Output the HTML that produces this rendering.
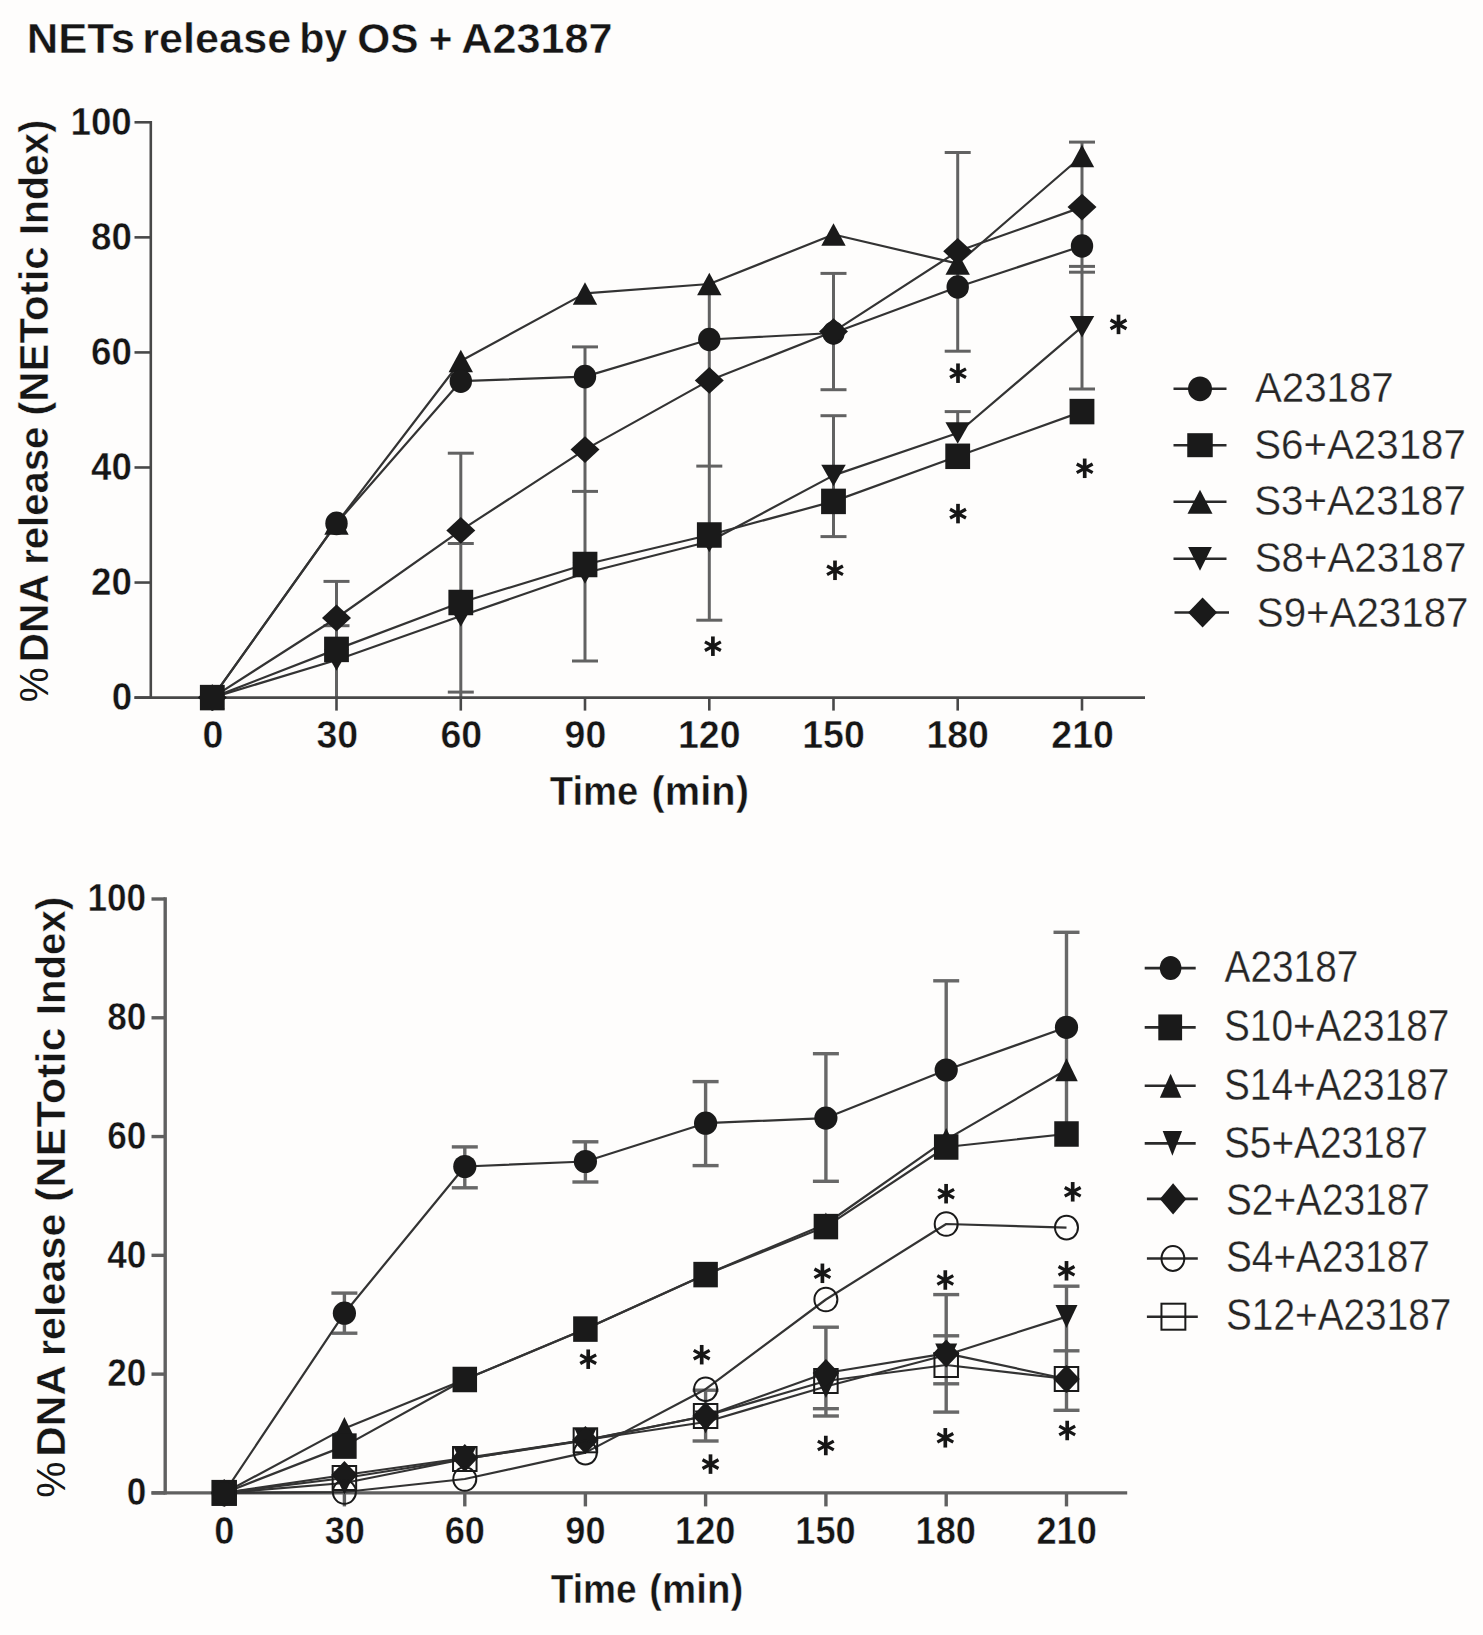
<!DOCTYPE html><html><head><meta charset="utf-8"><title>NETs release by OS + A23187</title>
<style>html,body{margin:0;padding:0;background:#fefdfc;overflow:hidden}svg{display:block}text{font-family:"Liberation Sans",sans-serif;fill:#161616;stroke:#fefdfc;stroke-width:0.45px}text.lg{fill:#262626;stroke-width:0.3px}</style></head><body>
<svg width="1483" height="1635" viewBox="0 0 1483 1635">
<rect width="1483" height="1635" fill="#fefdfc"/>
<text transform="translate(26.65 52.5) scale(1.0339 1)" font-size="42.2" font-weight="bold">NETs</text>
<text transform="translate(142.28 52.5) scale(1.0238 1)" font-size="42.2" font-weight="bold">release</text>
<text transform="translate(299.22 52.5) scale(0.9761 1)" font-size="42.2" font-weight="bold">by</text>
<text transform="translate(357.3 52.5) scale(1.0054 1)" font-size="42.2" font-weight="bold">OS</text>
<text transform="translate(428.68 52.5) scale(0.9573 1)" font-size="42.2" font-weight="bold">+</text>
<text transform="translate(461.3 52.5) scale(1.0232 1)" font-size="42.2" font-weight="bold">A23187</text>
<line x1="336.5" y1="581.4" x2="336.5" y2="697.6" stroke="#626262" stroke-width="3.0"/><line x1="323.5" y1="581.4" x2="349.5" y2="581.4" stroke="#626262" stroke-width="3.0"/><line x1="323.5" y1="625.7" x2="349.5" y2="625.7" stroke="#626262" stroke-width="3.0"/>
<line x1="460.8" y1="453.2" x2="460.8" y2="697.6" stroke="#626262" stroke-width="3.0"/><line x1="447.8" y1="453.2" x2="473.8" y2="453.2" stroke="#626262" stroke-width="3.0"/><line x1="447.8" y1="543.5" x2="473.8" y2="543.5" stroke="#626262" stroke-width="3.0"/><line x1="447.8" y1="692.1" x2="473.8" y2="692.1" stroke="#626262" stroke-width="3.0"/>
<line x1="585" y1="346.9" x2="585" y2="661" stroke="#626262" stroke-width="3.0"/><line x1="572" y1="346.9" x2="598" y2="346.9" stroke="#626262" stroke-width="3.0"/><line x1="572" y1="491.4" x2="598" y2="491.4" stroke="#626262" stroke-width="3.0"/><line x1="572" y1="661" x2="598" y2="661" stroke="#626262" stroke-width="3.0"/>
<line x1="709.3" y1="285" x2="709.3" y2="620.2" stroke="#626262" stroke-width="3.0"/><line x1="696.3" y1="466.1" x2="722.3" y2="466.1" stroke="#626262" stroke-width="3.0"/><line x1="696.3" y1="620.2" x2="722.3" y2="620.2" stroke="#626262" stroke-width="3.0"/>
<line x1="833.5" y1="273.4" x2="833.5" y2="389.7" stroke="#626262" stroke-width="3.0"/><line x1="833.5" y1="415.7" x2="833.5" y2="536.6" stroke="#626262" stroke-width="3.0"/><line x1="820.5" y1="273.4" x2="846.5" y2="273.4" stroke="#626262" stroke-width="3.0"/><line x1="820.5" y1="389.7" x2="846.5" y2="389.7" stroke="#626262" stroke-width="3.0"/><line x1="820.5" y1="415.7" x2="846.5" y2="415.7" stroke="#626262" stroke-width="3.0"/><line x1="820.5" y1="536.6" x2="846.5" y2="536.6" stroke="#626262" stroke-width="3.0"/>
<line x1="957.7" y1="152.5" x2="957.7" y2="351.2" stroke="#626262" stroke-width="3.0"/><line x1="957.7" y1="411.6" x2="957.7" y2="440" stroke="#626262" stroke-width="3.0"/><line x1="944.7" y1="152.5" x2="970.7" y2="152.5" stroke="#626262" stroke-width="3.0"/><line x1="944.7" y1="351.2" x2="970.7" y2="351.2" stroke="#626262" stroke-width="3.0"/><line x1="944.7" y1="411.6" x2="970.7" y2="411.6" stroke="#626262" stroke-width="3.0"/>
<line x1="1082" y1="142.1" x2="1082" y2="389" stroke="#626262" stroke-width="3.0"/><line x1="1069" y1="142.1" x2="1095" y2="142.1" stroke="#626262" stroke-width="3.0"/><line x1="1069" y1="266.4" x2="1095" y2="266.4" stroke="#626262" stroke-width="3.0"/><line x1="1069" y1="272.2" x2="1095" y2="272.2" stroke="#626262" stroke-width="3.0"/><line x1="1069" y1="389" x2="1095" y2="389" stroke="#626262" stroke-width="3.0"/>
<line x1="150.8" y1="121" x2="150.8" y2="698.9" stroke="#484848" stroke-width="2.6"/>
<line x1="134.5" y1="697.6" x2="1145" y2="697.6" stroke="#484848" stroke-width="2.6"/>
<line x1="134.5" y1="122.3" x2="150.8" y2="122.3" stroke="#484848" stroke-width="2.6"/>
<text transform="translate(70.42 134.8) scale(0.9684 1)" font-size="38" font-weight="bold">100</text>
<line x1="134.5" y1="237.36" x2="150.8" y2="237.36" stroke="#484848" stroke-width="2.6"/>
<text transform="translate(91.02 249.86) scale(0.9684 1)" font-size="38" font-weight="bold">80</text>
<line x1="134.5" y1="352.42" x2="150.8" y2="352.42" stroke="#484848" stroke-width="2.6"/>
<text transform="translate(91.02 364.92) scale(0.9684 1)" font-size="38" font-weight="bold">60</text>
<line x1="134.5" y1="467.48" x2="150.8" y2="467.48" stroke="#484848" stroke-width="2.6"/>
<text transform="translate(91.02 479.98) scale(0.9684 1)" font-size="38" font-weight="bold">40</text>
<line x1="134.5" y1="582.54" x2="150.8" y2="582.54" stroke="#484848" stroke-width="2.6"/>
<text transform="translate(91.02 595.04) scale(0.9684 1)" font-size="38" font-weight="bold">20</text>
<line x1="134.5" y1="697.6" x2="150.8" y2="697.6" stroke="#484848" stroke-width="2.6"/>
<text transform="translate(111.63 710.1) scale(0.9684 1)" font-size="38" font-weight="bold">0</text>
<line x1="212.3" y1="697.6" x2="212.3" y2="710.6" stroke="#484848" stroke-width="2.6"/>
<text transform="translate(202.39 747.5) scale(0.9868 1)" font-size="38" font-weight="bold">0</text>
<line x1="336.5" y1="697.6" x2="336.5" y2="710.6" stroke="#484848" stroke-width="2.6"/>
<text transform="translate(316.46 747.5) scale(0.9868 1)" font-size="38" font-weight="bold">30</text>
<line x1="460.8" y1="697.6" x2="460.8" y2="710.6" stroke="#484848" stroke-width="2.6"/>
<text transform="translate(440.39 747.5) scale(0.9868 1)" font-size="38" font-weight="bold">60</text>
<line x1="585" y1="697.6" x2="585" y2="710.6" stroke="#484848" stroke-width="2.6"/>
<text transform="translate(564.59 747.5) scale(0.9868 1)" font-size="38" font-weight="bold">90</text>
<line x1="709.3" y1="697.6" x2="709.3" y2="710.6" stroke="#484848" stroke-width="2.6"/>
<text transform="translate(678.01 747.5) scale(0.9868 1)" font-size="38" font-weight="bold">120</text>
<line x1="833.5" y1="697.6" x2="833.5" y2="710.6" stroke="#484848" stroke-width="2.6"/>
<text transform="translate(802.21 747.5) scale(0.9868 1)" font-size="38" font-weight="bold">150</text>
<line x1="957.7" y1="697.6" x2="957.7" y2="710.6" stroke="#484848" stroke-width="2.6"/>
<text transform="translate(926.41 747.5) scale(0.9868 1)" font-size="38" font-weight="bold">180</text>
<line x1="1082" y1="697.6" x2="1082" y2="710.6" stroke="#484848" stroke-width="2.6"/>
<text transform="translate(1051.28 747.5) scale(0.9868 1)" font-size="38" font-weight="bold">210</text>
<text transform="translate(549.82 805) scale(0.9441 1)" font-size="40.5" font-weight="bold">Time</text>
<text transform="translate(651.61 805) scale(0.9834 1)" font-size="40.5" font-weight="bold">(min)</text>
<text style="stroke-width:0" transform="translate(47.8 702.37) rotate(-90) scale(0.9545 1)" font-size="41" font-weight="normal">%</text>
<text transform="translate(47.8 662.56) rotate(-90) scale(0.9980 1)" font-size="41" font-weight="bold">DNA</text>
<text transform="translate(47.8 564.8) rotate(-90) scale(0.9763 1)" font-size="41" font-weight="bold">release</text>
<text transform="translate(47.8 415.7) rotate(-90) scale(1.0237 1)" font-size="41" font-weight="bold">(NETotic</text>
<text transform="translate(47.8 234.74) rotate(-90) scale(0.9532 1)" font-size="41" font-weight="bold">Index)</text>
<polyline points="212.3,697.6 336.5,523.5 460.8,361 585,293.4 709.3,284 833.5,234.5 957.7,263.6 1082,156" fill="none" stroke="#333333" stroke-width="2.2" stroke-linejoin="round"/>
<polyline points="212.3,697.6 336.5,523.4 460.8,381.2 585,376.6 709.3,339.5 833.5,333 957.7,287 1082,246" fill="none" stroke="#333333" stroke-width="2.2" stroke-linejoin="round"/>
<polyline points="212.3,697.6 336.5,618 460.8,530.4 585,449.6 709.3,380.4 833.5,331.6 957.7,251.3 1082,207.1" fill="none" stroke="#333333" stroke-width="2.2" stroke-linejoin="round"/>
<polyline points="212.3,697.6 336.5,660 460.8,616 585,573 709.3,541.5 833.5,475.4 957.7,433 1082,326.8" fill="none" stroke="#333333" stroke-width="2.2" stroke-linejoin="round"/>
<polyline points="212.3,697.6 336.5,649.4 460.8,602.5 585,564.5 709.3,535 833.5,501.4 957.7,456.3 1082,411.6" fill="none" stroke="#333333" stroke-width="2.2" stroke-linejoin="round"/>
<path d="M212.3 686.35L224.5 708.85L200.1 708.85Z" fill="#1a1a1a"/>
<path d="M336.5 512.25L348.7 534.75L324.3 534.75Z" fill="#1a1a1a"/>
<path d="M460.8 349.75L473 372.25L448.6 372.25Z" fill="#1a1a1a"/>
<path d="M585 282.15L597.2 304.65L572.8 304.65Z" fill="#1a1a1a"/>
<path d="M709.3 272.75L721.5 295.25L697.1 295.25Z" fill="#1a1a1a"/>
<path d="M833.5 223.25L845.7 245.75L821.3 245.75Z" fill="#1a1a1a"/>
<path d="M957.7 252.35L969.9 274.85L945.5 274.85Z" fill="#1a1a1a"/>
<path d="M1082 144.75L1094.2 167.25L1069.8 167.25Z" fill="#1a1a1a"/>
<ellipse cx="212.3" cy="697.6" rx="11.2" ry="11.8" fill="#1a1a1a"/>
<ellipse cx="336.5" cy="523.4" rx="11.2" ry="11.8" fill="#1a1a1a"/>
<ellipse cx="460.8" cy="381.2" rx="11.2" ry="11.8" fill="#1a1a1a"/>
<ellipse cx="585" cy="376.6" rx="11.2" ry="11.8" fill="#1a1a1a"/>
<ellipse cx="709.3" cy="339.5" rx="11.2" ry="11.8" fill="#1a1a1a"/>
<ellipse cx="833.5" cy="333" rx="11.2" ry="11.8" fill="#1a1a1a"/>
<ellipse cx="957.7" cy="287" rx="11.2" ry="11.8" fill="#1a1a1a"/>
<ellipse cx="1082" cy="246" rx="11.2" ry="11.8" fill="#1a1a1a"/>
<path d="M212.3 684.2L226.8 697.6L212.3 711L197.8 697.6Z" fill="#1a1a1a"/>
<path d="M336.5 604.6L351 618L336.5 631.4L322 618Z" fill="#1a1a1a"/>
<path d="M460.8 517L475.3 530.4L460.8 543.8L446.3 530.4Z" fill="#1a1a1a"/>
<path d="M585 436.2L599.5 449.6L585 463L570.5 449.6Z" fill="#1a1a1a"/>
<path d="M709.3 367L723.8 380.4L709.3 393.8L694.8 380.4Z" fill="#1a1a1a"/>
<path d="M833.5 318.2L848 331.6L833.5 345L819 331.6Z" fill="#1a1a1a"/>
<path d="M957.7 237.9L972.2 251.3L957.7 264.7L943.2 251.3Z" fill="#1a1a1a"/>
<path d="M1082 193.7L1096.5 207.1L1082 220.5L1067.5 207.1Z" fill="#1a1a1a"/>
<path d="M200.05 686.85L224.55 686.85L212.3 708.35Z" fill="#1a1a1a"/>
<path d="M324.25 649.25L348.75 649.25L336.5 670.75Z" fill="#1a1a1a"/>
<path d="M448.55 605.25L473.05 605.25L460.8 626.75Z" fill="#1a1a1a"/>
<path d="M572.75 562.25L597.25 562.25L585 583.75Z" fill="#1a1a1a"/>
<path d="M697.05 530.75L721.55 530.75L709.3 552.25Z" fill="#1a1a1a"/>
<path d="M821.25 464.65L845.75 464.65L833.5 486.15Z" fill="#1a1a1a"/>
<path d="M945.45 422.25L969.95 422.25L957.7 443.75Z" fill="#1a1a1a"/>
<path d="M1069.75 316.05L1094.25 316.05L1082 337.55Z" fill="#1a1a1a"/>
<rect x="199.9" y="684.85" width="24.8" height="25.5" fill="#1a1a1a"/>
<rect x="324.1" y="636.65" width="24.8" height="25.5" fill="#1a1a1a"/>
<rect x="448.4" y="589.75" width="24.8" height="25.5" fill="#1a1a1a"/>
<rect x="572.6" y="551.75" width="24.8" height="25.5" fill="#1a1a1a"/>
<rect x="696.9" y="522.25" width="24.8" height="25.5" fill="#1a1a1a"/>
<rect x="821.1" y="488.65" width="24.8" height="25.5" fill="#1a1a1a"/>
<rect x="945.3" y="443.55" width="24.8" height="25.5" fill="#1a1a1a"/>
<rect x="1069.6" y="398.85" width="24.8" height="25.5" fill="#1a1a1a"/>
<path d="M712.9 636.45L712.9 655.95" stroke="#161616" stroke-width="3.7" fill="none"/><path d="M704.95 641.83L720.85 650.57M704.95 650.57L720.85 641.83" stroke="#161616" stroke-width="3.3" fill="none"/>
<path d="M835 560.55L835 580.05" stroke="#161616" stroke-width="3.7" fill="none"/><path d="M827.05 565.93L842.95 574.67M827.05 574.67L842.95 565.93" stroke="#161616" stroke-width="3.3" fill="none"/>
<path d="M958 363.45L958 382.95" stroke="#161616" stroke-width="3.7" fill="none"/><path d="M950.05 368.83L965.95 377.57M950.05 377.57L965.95 368.83" stroke="#161616" stroke-width="3.3" fill="none"/>
<path d="M958 503.85L958 523.35" stroke="#161616" stroke-width="3.7" fill="none"/><path d="M950.05 509.23L965.95 517.97M950.05 517.97L965.95 509.23" stroke="#161616" stroke-width="3.3" fill="none"/>
<path d="M1118.5 314.65L1118.5 334.15" stroke="#161616" stroke-width="3.7" fill="none"/><path d="M1110.55 320.03L1126.45 328.77M1110.55 328.77L1126.45 320.03" stroke="#161616" stroke-width="3.3" fill="none"/>
<path d="M1084.7 458.55L1084.7 478.05" stroke="#161616" stroke-width="3.7" fill="none"/><path d="M1076.75 463.93L1092.65 472.67M1076.75 472.67L1092.65 463.93" stroke="#161616" stroke-width="3.3" fill="none"/>
<line x1="1173.5" y1="388.8" x2="1226.5" y2="388.8" stroke="#2a2a2a" stroke-width="2.6"/>
<ellipse cx="1200" cy="388.8" rx="12" ry="12.4" fill="#1a1a1a"/>
<text class="lg" transform="translate(1254.9 402.4) scale(0.9416 1)" font-size="42.8" font-weight="normal">A23187</text>
<line x1="1173.5" y1="445.2" x2="1226.5" y2="445.2" stroke="#2a2a2a" stroke-width="2.6"/>
<rect x="1187.25" y="433.2" width="25.5" height="24" fill="#1a1a1a"/>
<text class="lg" transform="translate(1254.2 458.7) scale(0.9416 1)" font-size="42.8" font-weight="normal">S6+A23187</text>
<line x1="1173.5" y1="501.8" x2="1226.5" y2="501.8" stroke="#2a2a2a" stroke-width="2.6"/>
<path d="M1200 489.8L1212.5 513.8L1187.5 513.8Z" fill="#1a1a1a"/>
<text class="lg" transform="translate(1254.2 514.6) scale(0.9416 1)" font-size="42.8" font-weight="normal">S3+A23187</text>
<line x1="1173.5" y1="558.8" x2="1226.5" y2="558.8" stroke="#2a2a2a" stroke-width="2.6"/>
<path d="M1188.1 546.95L1211.9 546.95L1200 570.65Z" fill="#1a1a1a"/>
<text class="lg" transform="translate(1254.7 571.8) scale(0.9416 1)" font-size="42.8" font-weight="normal">S8+A23187</text>
<line x1="1174.5" y1="612.5" x2="1229" y2="612.5" stroke="#2a2a2a" stroke-width="2.6"/>
<path d="M1202.6 597.6L1217.1 612.5L1202.6 627.4L1188.1 612.5Z" fill="#1a1a1a"/>
<text class="lg" transform="translate(1256.8 626.8) scale(0.9416 1)" font-size="42.8" font-weight="normal">S9+A23187</text>
<line x1="344.4" y1="1293.1" x2="344.4" y2="1333.2" stroke="#686868" stroke-width="3.4"/><line x1="331.4" y1="1293.1" x2="357.4" y2="1293.1" stroke="#686868" stroke-width="3.4"/><line x1="331.4" y1="1333.2" x2="357.4" y2="1333.2" stroke="#686868" stroke-width="3.4"/>
<line x1="464.8" y1="1146.9" x2="464.8" y2="1187.8" stroke="#686868" stroke-width="3.4"/><line x1="451.8" y1="1146.9" x2="477.8" y2="1146.9" stroke="#686868" stroke-width="3.4"/><line x1="451.8" y1="1187.8" x2="477.8" y2="1187.8" stroke="#686868" stroke-width="3.4"/>
<line x1="585.4" y1="1141.8" x2="585.4" y2="1182" stroke="#686868" stroke-width="3.4"/><line x1="572.4" y1="1141.8" x2="598.4" y2="1141.8" stroke="#686868" stroke-width="3.4"/><line x1="572.4" y1="1182" x2="598.4" y2="1182" stroke="#686868" stroke-width="3.4"/>
<line x1="705.6" y1="1081.6" x2="705.6" y2="1165.6" stroke="#686868" stroke-width="3.4"/><line x1="705.6" y1="1390" x2="705.6" y2="1441" stroke="#686868" stroke-width="3.4"/><line x1="692.6" y1="1081.6" x2="718.6" y2="1081.6" stroke="#686868" stroke-width="3.4"/><line x1="692.6" y1="1165.6" x2="718.6" y2="1165.6" stroke="#686868" stroke-width="3.4"/><line x1="692.6" y1="1390.2" x2="718.6" y2="1390.2" stroke="#686868" stroke-width="3.4"/><line x1="692.6" y1="1441" x2="718.6" y2="1441" stroke="#686868" stroke-width="3.4"/>
<line x1="825.9" y1="1053.7" x2="825.9" y2="1181.3" stroke="#686868" stroke-width="3.4"/><line x1="825.9" y1="1327.2" x2="825.9" y2="1416" stroke="#686868" stroke-width="3.4"/><line x1="812.9" y1="1053.7" x2="838.9" y2="1053.7" stroke="#686868" stroke-width="3.4"/><line x1="812.9" y1="1181.3" x2="838.9" y2="1181.3" stroke="#686868" stroke-width="3.4"/><line x1="812.9" y1="1327.2" x2="838.9" y2="1327.2" stroke="#686868" stroke-width="3.4"/><line x1="812.9" y1="1408.7" x2="838.9" y2="1408.7" stroke="#686868" stroke-width="3.4"/><line x1="812.9" y1="1416" x2="838.9" y2="1416" stroke="#686868" stroke-width="3.4"/>
<line x1="946.2" y1="980.8" x2="946.2" y2="1147" stroke="#686868" stroke-width="3.4"/><line x1="946.2" y1="1294.6" x2="946.2" y2="1412.1" stroke="#686868" stroke-width="3.4"/><line x1="933.2" y1="980.8" x2="959.2" y2="980.8" stroke="#686868" stroke-width="3.4"/><line x1="933.2" y1="1294.6" x2="959.2" y2="1294.6" stroke="#686868" stroke-width="3.4"/><line x1="933.2" y1="1335.8" x2="959.2" y2="1335.8" stroke="#686868" stroke-width="3.4"/><line x1="933.2" y1="1383.8" x2="959.2" y2="1383.8" stroke="#686868" stroke-width="3.4"/><line x1="933.2" y1="1412.1" x2="959.2" y2="1412.1" stroke="#686868" stroke-width="3.4"/>
<line x1="1066.5" y1="932.3" x2="1066.5" y2="1134" stroke="#686868" stroke-width="3.4"/><line x1="1066.5" y1="1286.2" x2="1066.5" y2="1410.3" stroke="#686868" stroke-width="3.4"/><line x1="1053.5" y1="932.3" x2="1079.5" y2="932.3" stroke="#686868" stroke-width="3.4"/><line x1="1053.5" y1="1286.2" x2="1079.5" y2="1286.2" stroke="#686868" stroke-width="3.4"/><line x1="1053.5" y1="1350.8" x2="1079.5" y2="1350.8" stroke="#686868" stroke-width="3.4"/><line x1="1053.5" y1="1410.3" x2="1079.5" y2="1410.3" stroke="#686868" stroke-width="3.4"/>
<line x1="165.2" y1="897.3" x2="165.2" y2="1494.6" stroke="#606060" stroke-width="3.4"/>
<line x1="151.5" y1="1492.9" x2="1127.2" y2="1492.9" stroke="#606060" stroke-width="3.4"/>
<line x1="151.5" y1="899" x2="165.2" y2="899" stroke="#606060" stroke-width="3.4"/>
<text transform="translate(87.42 911.3) scale(0.9215 1)" font-size="38.2" font-weight="bold">100</text>
<line x1="151.5" y1="1017.78" x2="165.2" y2="1017.78" stroke="#606060" stroke-width="3.4"/>
<text transform="translate(107.14 1030.08) scale(0.9215 1)" font-size="38.2" font-weight="bold">80</text>
<line x1="151.5" y1="1136.56" x2="165.2" y2="1136.56" stroke="#606060" stroke-width="3.4"/>
<text transform="translate(107.14 1148.86) scale(0.9215 1)" font-size="38.2" font-weight="bold">60</text>
<line x1="151.5" y1="1255.34" x2="165.2" y2="1255.34" stroke="#606060" stroke-width="3.4"/>
<text transform="translate(107.14 1267.64) scale(0.9215 1)" font-size="38.2" font-weight="bold">40</text>
<line x1="151.5" y1="1374.12" x2="165.2" y2="1374.12" stroke="#606060" stroke-width="3.4"/>
<text transform="translate(107.14 1386.42) scale(0.9215 1)" font-size="38.2" font-weight="bold">20</text>
<line x1="151.5" y1="1492.9" x2="165.2" y2="1492.9" stroke="#606060" stroke-width="3.4"/>
<text transform="translate(126.85 1505.2) scale(0.9215 1)" font-size="38.2" font-weight="bold">0</text>
<line x1="224.2" y1="1492.9" x2="224.2" y2="1506.4" stroke="#606060" stroke-width="3.4"/>
<text transform="translate(214.24 1543.8) scale(0.9330 1)" font-size="38.8" font-weight="bold">0</text>
<line x1="344.4" y1="1492.9" x2="344.4" y2="1506.4" stroke="#606060" stroke-width="3.4"/>
<text transform="translate(324.67 1543.8) scale(0.9330 1)" font-size="38.8" font-weight="bold">30</text>
<line x1="464.8" y1="1492.9" x2="464.8" y2="1506.4" stroke="#606060" stroke-width="3.4"/>
<text transform="translate(444.71 1543.8) scale(0.9330 1)" font-size="38.8" font-weight="bold">60</text>
<line x1="585.4" y1="1492.9" x2="585.4" y2="1506.4" stroke="#606060" stroke-width="3.4"/>
<text transform="translate(565.31 1543.8) scale(0.9330 1)" font-size="38.8" font-weight="bold">90</text>
<line x1="705.6" y1="1492.9" x2="705.6" y2="1506.4" stroke="#606060" stroke-width="3.4"/>
<text transform="translate(675.01 1543.8) scale(0.9330 1)" font-size="38.8" font-weight="bold">120</text>
<line x1="825.9" y1="1492.9" x2="825.9" y2="1506.4" stroke="#606060" stroke-width="3.4"/>
<text transform="translate(795.31 1543.8) scale(0.9330 1)" font-size="38.8" font-weight="bold">150</text>
<line x1="946.2" y1="1492.9" x2="946.2" y2="1506.4" stroke="#606060" stroke-width="3.4"/>
<text transform="translate(915.61 1543.8) scale(0.9330 1)" font-size="38.8" font-weight="bold">180</text>
<line x1="1066.5" y1="1492.9" x2="1066.5" y2="1506.4" stroke="#606060" stroke-width="3.4"/>
<text transform="translate(1036.45 1543.8) scale(0.9330 1)" font-size="38.8" font-weight="bold">210</text>
<text transform="translate(550.63 1603.4) scale(0.9170 1)" font-size="40.5" font-weight="bold">Time</text>
<text transform="translate(649.28 1603.4) scale(0.9497 1)" font-size="40.5" font-weight="bold">(min)</text>
<text style="stroke-width:0" transform="translate(65 1497.82) rotate(-90) scale(1.0180 1)" font-size="39.9" font-weight="normal">%</text>
<text transform="translate(65 1456.77) rotate(-90) scale(1.0618 1)" font-size="39.9" font-weight="bold">DNA</text>
<text transform="translate(65 1356.1) rotate(-90) scale(1.0370 1)" font-size="39.9" font-weight="bold">release</text>
<text transform="translate(65 1202.06) rotate(-90) scale(1.0841 1)" font-size="39.9" font-weight="bold">(NETotic</text>
<text transform="translate(65 1015.21) rotate(-90) scale(1.0078 1)" font-size="39.9" font-weight="bold">Index)</text>
<polyline points="224.2,1492.9 344.4,1313.2 464.8,1166.5 585.4,1161.5 705.6,1123.2 825.9,1118.1 946.2,1070 1066.5,1027.3" fill="none" stroke="#333333" stroke-width="2.2" stroke-linejoin="round"/>
<polyline points="224.2,1492.9 344.4,1428.4 464.8,1379.5 585.4,1329 705.6,1274.6 825.9,1224 946.2,1139.6 1066.5,1069.8" fill="none" stroke="#333333" stroke-width="2.2" stroke-linejoin="round"/>
<polyline points="224.2,1492.9 344.4,1483 464.8,1459 585.4,1440 705.6,1422 825.9,1386.5 946.2,1355 1066.5,1316.6" fill="none" stroke="#333333" stroke-width="2.2" stroke-linejoin="round"/>
<polyline points="224.2,1492.9 344.4,1475 464.8,1458 585.4,1440 705.6,1416 825.9,1373 946.2,1353.4 1066.5,1379" fill="none" stroke="#333333" stroke-width="2.2" stroke-linejoin="round"/>
<polyline points="224.2,1492.9 344.4,1446.1 464.8,1379.5 585.4,1329.1 705.6,1274.6 825.9,1226.6 946.2,1147 1066.5,1134" fill="none" stroke="#333333" stroke-width="2.2" stroke-linejoin="round"/>
<polyline points="224.2,1492.9 344.4,1492 464.8,1479 585.4,1452.6 705.6,1389.2 825.9,1299.5 946.2,1224 1066.5,1227.6" fill="none" stroke="#333333" stroke-width="2.2" stroke-linejoin="round"/>
<polyline points="224.2,1492.9 344.4,1478 464.8,1459 585.4,1440.3 705.6,1416 825.9,1381 946.2,1365 1066.5,1379" fill="none" stroke="#333333" stroke-width="2.2" stroke-linejoin="round"/>
<ellipse cx="224.2" cy="1492.9" rx="11.6" ry="11.6" fill="#1a1a1a"/>
<ellipse cx="344.4" cy="1313.2" rx="11.6" ry="11.6" fill="#1a1a1a"/>
<ellipse cx="464.8" cy="1166.5" rx="11.6" ry="11.6" fill="#1a1a1a"/>
<ellipse cx="585.4" cy="1161.5" rx="11.6" ry="11.6" fill="#1a1a1a"/>
<ellipse cx="705.6" cy="1123.2" rx="11.6" ry="11.6" fill="#1a1a1a"/>
<ellipse cx="825.9" cy="1118.1" rx="11.6" ry="11.6" fill="#1a1a1a"/>
<ellipse cx="946.2" cy="1070" rx="11.6" ry="11.6" fill="#1a1a1a"/>
<ellipse cx="1066.5" cy="1027.3" rx="11.6" ry="11.6" fill="#1a1a1a"/>
<path d="M224.2 1481.4L235.45 1504.4L212.95 1504.4Z" fill="#1a1a1a"/>
<path d="M344.4 1416.9L355.65 1439.9L333.15 1439.9Z" fill="#1a1a1a"/>
<path d="M464.8 1368L476.05 1391L453.55 1391Z" fill="#1a1a1a"/>
<path d="M585.4 1317.5L596.65 1340.5L574.15 1340.5Z" fill="#1a1a1a"/>
<path d="M705.6 1263.1L716.85 1286.1L694.35 1286.1Z" fill="#1a1a1a"/>
<path d="M825.9 1212.5L837.15 1235.5L814.65 1235.5Z" fill="#1a1a1a"/>
<path d="M946.2 1128.1L957.45 1151.1L934.95 1151.1Z" fill="#1a1a1a"/>
<path d="M1066.5 1058.3L1077.75 1081.3L1055.25 1081.3Z" fill="#1a1a1a"/>
<path d="M213.2 1481.4L235.2 1481.4L224.2 1504.4Z" fill="#1a1a1a"/>
<path d="M333.4 1471.5L355.4 1471.5L344.4 1494.5Z" fill="#1a1a1a"/>
<path d="M453.8 1447.5L475.8 1447.5L464.8 1470.5Z" fill="#1a1a1a"/>
<path d="M574.4 1428.5L596.4 1428.5L585.4 1451.5Z" fill="#1a1a1a"/>
<path d="M694.6 1410.5L716.6 1410.5L705.6 1433.5Z" fill="#1a1a1a"/>
<path d="M814.9 1375L836.9 1375L825.9 1398Z" fill="#1a1a1a"/>
<path d="M935.2 1343.5L957.2 1343.5L946.2 1366.5Z" fill="#1a1a1a"/>
<path d="M1055.5 1305.1L1077.5 1305.1L1066.5 1328.1Z" fill="#1a1a1a"/>
<path d="M224.2 1478.9L237.45 1492.9L224.2 1506.9L210.95 1492.9Z" fill="#1a1a1a"/>
<path d="M344.4 1461L357.65 1475L344.4 1489L331.15 1475Z" fill="#1a1a1a"/>
<path d="M464.8 1444L478.05 1458L464.8 1472L451.55 1458Z" fill="#1a1a1a"/>
<path d="M585.4 1426L598.65 1440L585.4 1454L572.15 1440Z" fill="#1a1a1a"/>
<path d="M705.6 1402L718.85 1416L705.6 1430L692.35 1416Z" fill="#1a1a1a"/>
<path d="M825.9 1359L839.15 1373L825.9 1387L812.65 1373Z" fill="#1a1a1a"/>
<path d="M946.2 1339.4L959.45 1353.4L946.2 1367.4L932.95 1353.4Z" fill="#1a1a1a"/>
<path d="M1066.5 1365L1079.75 1379L1066.5 1393L1053.25 1379Z" fill="#1a1a1a"/>
<rect x="211.95" y="1480.15" width="24.5" height="25.5" fill="#1a1a1a"/>
<rect x="332.15" y="1433.35" width="24.5" height="25.5" fill="#1a1a1a"/>
<rect x="452.55" y="1366.75" width="24.5" height="25.5" fill="#1a1a1a"/>
<rect x="573.15" y="1316.35" width="24.5" height="25.5" fill="#1a1a1a"/>
<rect x="693.35" y="1261.85" width="24.5" height="25.5" fill="#1a1a1a"/>
<rect x="813.65" y="1213.85" width="24.5" height="25.5" fill="#1a1a1a"/>
<rect x="933.95" y="1134.25" width="24.5" height="25.5" fill="#1a1a1a"/>
<rect x="1054.25" y="1121.25" width="24.5" height="25.5" fill="#1a1a1a"/>
<ellipse cx="224.2" cy="1492.9" rx="11.5" ry="11.8" fill="none" stroke="#1a1a1a" stroke-width="2.0"/>
<ellipse cx="344.4" cy="1492" rx="11.5" ry="11.8" fill="none" stroke="#1a1a1a" stroke-width="2.0"/>
<ellipse cx="464.8" cy="1479" rx="11.5" ry="11.8" fill="none" stroke="#1a1a1a" stroke-width="2.0"/>
<ellipse cx="585.4" cy="1452.6" rx="11.5" ry="11.8" fill="none" stroke="#1a1a1a" stroke-width="2.0"/>
<ellipse cx="705.6" cy="1389.2" rx="11.5" ry="11.8" fill="none" stroke="#1a1a1a" stroke-width="2.0"/>
<ellipse cx="825.9" cy="1299.5" rx="11.5" ry="11.8" fill="none" stroke="#1a1a1a" stroke-width="2.0"/>
<ellipse cx="946.2" cy="1224" rx="11.5" ry="11.8" fill="none" stroke="#1a1a1a" stroke-width="2.0"/>
<ellipse cx="1066.5" cy="1227.6" rx="11.5" ry="11.8" fill="none" stroke="#1a1a1a" stroke-width="2.0"/>
<rect x="212.45" y="1480.9" width="23.5" height="24" fill="none" stroke="#1a1a1a" stroke-width="2.0"/>
<rect x="332.65" y="1466" width="23.5" height="24" fill="none" stroke="#1a1a1a" stroke-width="2.0"/>
<rect x="453.05" y="1447" width="23.5" height="24" fill="none" stroke="#1a1a1a" stroke-width="2.0"/>
<rect x="573.65" y="1428.3" width="23.5" height="24" fill="none" stroke="#1a1a1a" stroke-width="2.0"/>
<rect x="693.85" y="1404" width="23.5" height="24" fill="none" stroke="#1a1a1a" stroke-width="2.0"/>
<rect x="814.15" y="1369" width="23.5" height="24" fill="none" stroke="#1a1a1a" stroke-width="2.0"/>
<rect x="934.45" y="1353" width="23.5" height="24" fill="none" stroke="#1a1a1a" stroke-width="2.0"/>
<rect x="1054.75" y="1367" width="23.5" height="24" fill="none" stroke="#1a1a1a" stroke-width="2.0"/>
<path d="M588.2 1349.45L588.2 1368.95" stroke="#161616" stroke-width="3.7" fill="none"/><path d="M580.25 1354.83L596.15 1363.57M580.25 1363.57L596.15 1354.83" stroke="#161616" stroke-width="3.3" fill="none"/>
<path d="M701.7 1344.95L701.7 1364.45" stroke="#161616" stroke-width="3.7" fill="none"/><path d="M693.75 1350.33L709.65 1359.07M693.75 1359.07L709.65 1350.33" stroke="#161616" stroke-width="3.3" fill="none"/>
<path d="M710.5 1454.35L710.5 1473.85" stroke="#161616" stroke-width="3.7" fill="none"/><path d="M702.55 1459.73L718.45 1468.47M702.55 1468.47L718.45 1459.73" stroke="#161616" stroke-width="3.3" fill="none"/>
<path d="M822.4 1263.55L822.4 1283.05" stroke="#161616" stroke-width="3.7" fill="none"/><path d="M814.45 1268.93L830.35 1277.67M814.45 1277.67L830.35 1268.93" stroke="#161616" stroke-width="3.3" fill="none"/>
<path d="M825.8 1435.75L825.8 1455.25" stroke="#161616" stroke-width="3.7" fill="none"/><path d="M817.85 1441.13L833.75 1449.87M817.85 1449.87L833.75 1441.13" stroke="#161616" stroke-width="3.3" fill="none"/>
<path d="M946.1 1183.95L946.1 1203.45" stroke="#161616" stroke-width="3.7" fill="none"/><path d="M938.15 1189.33L954.05 1198.07M938.15 1198.07L954.05 1189.33" stroke="#161616" stroke-width="3.3" fill="none"/>
<path d="M945.3 1270.25L945.3 1289.75" stroke="#161616" stroke-width="3.7" fill="none"/><path d="M937.35 1275.63L953.25 1284.37M937.35 1284.37L953.25 1275.63" stroke="#161616" stroke-width="3.3" fill="none"/>
<path d="M945.3 1428.05L945.3 1447.55" stroke="#161616" stroke-width="3.7" fill="none"/><path d="M937.35 1433.43L953.25 1442.17M937.35 1442.17L953.25 1433.43" stroke="#161616" stroke-width="3.3" fill="none"/>
<path d="M1072.7 1182.05L1072.7 1201.55" stroke="#161616" stroke-width="3.7" fill="none"/><path d="M1064.75 1187.43L1080.65 1196.17M1064.75 1196.17L1080.65 1187.43" stroke="#161616" stroke-width="3.3" fill="none"/>
<path d="M1066.5 1261.05L1066.5 1280.55" stroke="#161616" stroke-width="3.7" fill="none"/><path d="M1058.55 1266.43L1074.45 1275.17M1058.55 1275.17L1074.45 1266.43" stroke="#161616" stroke-width="3.3" fill="none"/>
<path d="M1067.2 1420.75L1067.2 1440.25" stroke="#161616" stroke-width="3.7" fill="none"/><path d="M1059.25 1426.13L1075.15 1434.87M1059.25 1434.87L1075.15 1426.13" stroke="#161616" stroke-width="3.3" fill="none"/>
<line x1="1144.7" y1="968.1" x2="1195.7" y2="968.1" stroke="#2a2a2a" stroke-width="2.6"/>
<ellipse cx="1170.6" cy="968.1" rx="10.8" ry="12" fill="#1a1a1a"/>
<text class="lg" transform="translate(1224.6 982.1) scale(0.8778 1)" font-size="44.2" font-weight="normal">A23187</text>
<line x1="1144.7" y1="1027.4" x2="1195.7" y2="1027.4" stroke="#2a2a2a" stroke-width="2.6"/>
<rect x="1158.3" y="1014.45" width="23.8" height="25.9" fill="#1a1a1a"/>
<text class="lg" transform="translate(1224 1041.2) scale(0.8778 1)" font-size="44.2" font-weight="normal">S10+A23187</text>
<line x1="1144.7" y1="1085.7" x2="1195.7" y2="1085.7" stroke="#2a2a2a" stroke-width="2.6"/>
<path d="M1170.6 1073.7L1181.35 1097.7L1159.85 1097.7Z" fill="#1a1a1a"/>
<text class="lg" transform="translate(1224 1099.6) scale(0.8778 1)" font-size="44.2" font-weight="normal">S14+A23187</text>
<line x1="1144.7" y1="1143.4" x2="1195.7" y2="1143.4" stroke="#2a2a2a" stroke-width="2.6"/>
<path d="M1162.7 1131L1182.1 1131L1172.4 1155.8Z" fill="#1a1a1a"/>
<text class="lg" transform="translate(1224 1157.9) scale(0.8778 1)" font-size="44.2" font-weight="normal">S5+A23187</text>
<line x1="1146.9" y1="1198.9" x2="1197.8" y2="1198.9" stroke="#2a2a2a" stroke-width="2.6"/>
<path d="M1173.1 1183.25L1186.35 1198.9L1173.1 1214.55L1159.85 1198.9Z" fill="#1a1a1a"/>
<text class="lg" transform="translate(1226 1214.7) scale(0.8778 1)" font-size="44.2" font-weight="normal">S2+A23187</text>
<line x1="1146.9" y1="1258.5" x2="1197.8" y2="1258.5" stroke="#2a2a2a" stroke-width="2.6"/>
<ellipse cx="1172.9" cy="1258.5" rx="11.4" ry="12.4" fill="none" stroke="#1a1a1a" stroke-width="2.0"/>
<text class="lg" transform="translate(1226 1271.8) scale(0.8778 1)" font-size="44.2" font-weight="normal">S4+A23187</text>
<line x1="1146.9" y1="1316.7" x2="1197.8" y2="1316.7" stroke="#2a2a2a" stroke-width="2.6"/>
<rect x="1161.45" y="1303.7" width="23.9" height="26" fill="none" stroke="#1a1a1a" stroke-width="2.0"/>
<text class="lg" transform="translate(1226 1330.1) scale(0.8778 1)" font-size="44.2" font-weight="normal">S12+A23187</text>
</svg></body></html>
